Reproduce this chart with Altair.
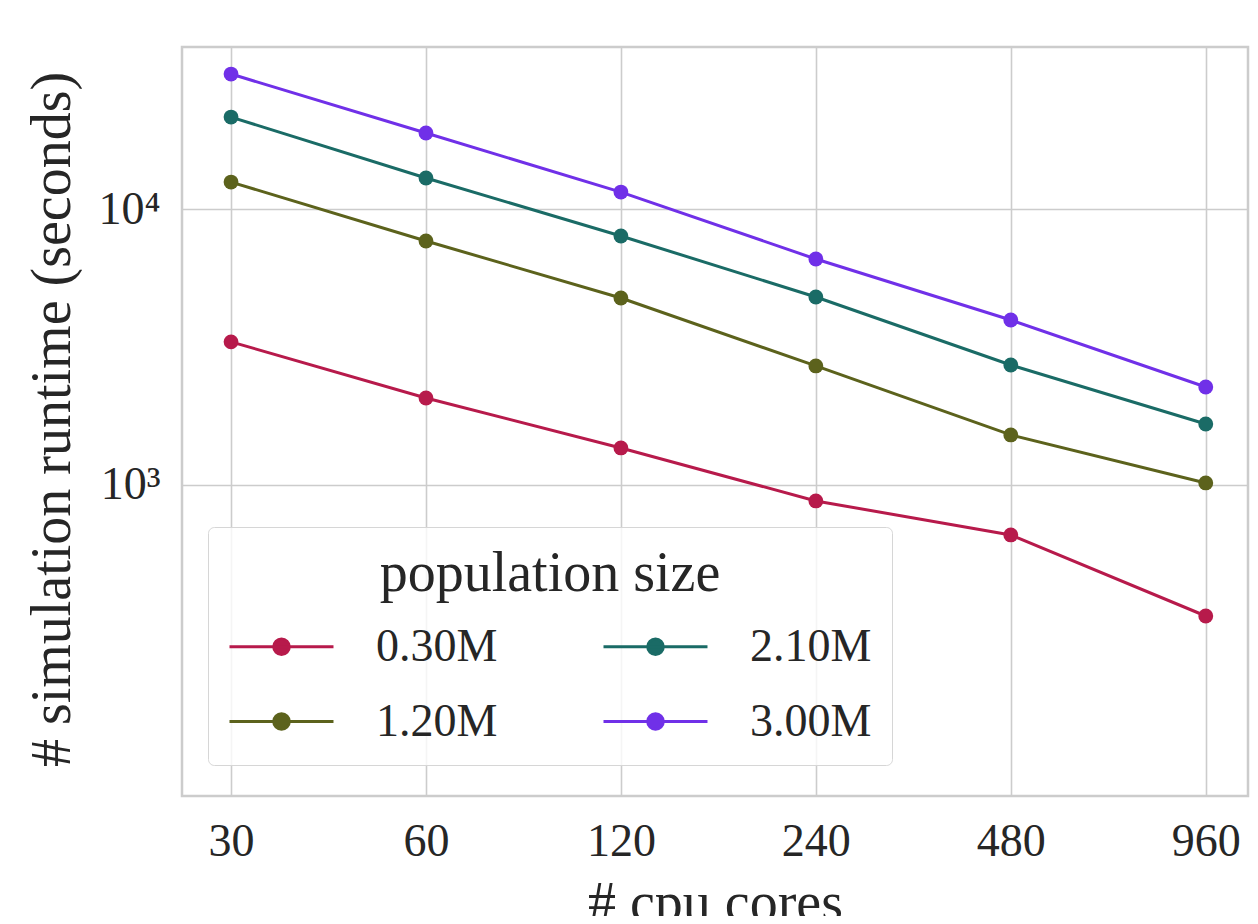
import altair as alt
import pandas as pd

cores = [30, 60, 120, 240, 480, 960]
series_names = ["0.30M", "1.20M", "2.10M", "3.00M"]
runtime_030 = [3300, 2066, 1362, 875, 659, 335]
runtime_120 = [12520, 7660, 4760, 2700, 1518, 1017]
runtime_210 = [21540, 12950, 7985, 4800, 2720, 1663]
runtime_300 = [30840, 18860, 11520, 6590, 3960, 2265]
series_values = [runtime_030, runtime_120, runtime_210, runtime_300]
colors = {"0.30M": "#B71A4B", "1.20M": "#5C621C", "2.10M": "#1A6B66", "3.00M": "#7030E8"}
legend_order = ["0.30M", "2.10M", "1.20M", "3.00M"]
y_ticks = [1000, 10000]

rows = []
for name, vals in zip(series_names, series_values):
    for c, v in zip(cores, vals):
        rows.append({"cores": c, "runtime": v, "population": name})
df = pd.DataFrame(rows)

FONT = "Liberation Serif"

x = alt.X("cores:Q",
          scale=alt.Scale(type="log", domain=[25.2, 1115.6], nice=False),
          axis=alt.Axis(values=cores, format="d", title="# cpu cores",
                        titleFontSize=56, labelFontSize=46, labelPadding=23,
                        ticks=False, domain=False, grid=True,
                        titleY=80, titleBaseline="top"))
y = alt.Y("runtime:Q",
          scale=alt.Scale(type="log", domain=[74.6, 38650], nice=False),
          axis=alt.Axis(values=y_ticks, title="# simulation runtime (seconds)",
                        labelExpr="datum.value == 10000 ? '10⁴' : '10³'",
                        titleFontSize=56, labelFontSize=46, labelPadding=22,
                        ticks=False, domain=False, grid=True,
                        titleX=-130, titleY=372, titleAngle=-90,
                        titleAlign="center", titleBaseline="middle"))
color = alt.Color("population:N",
                  scale=alt.Scale(domain=legend_order,
                                  range=[colors[n] for n in legend_order]),
                  legend=alt.Legend(
                      title="population size", orient="none",
                      legendX=26, legendY=480, columns=2,
                      direction="horizontal",
                      titleFontSize=56, labelFontSize=46, titleLimit=800,
                      titleAnchor="middle", titleFontWeight="normal",
                      titlePadding=7,
                      symbolType="M-1,0L1.971,0M0.709,0A0.223,0.223,0,1,1,0.263,0A0.223,0.223,0,1,1,0.709,0",
                      symbolSize=4900, symbolStrokeWidth=3,
                      labelOffset=75, columnPadding=99, rowPadding=15,
                      padding=20, cornerRadius=6,
                      strokeColor="#d6d6d6", fillColor="rgba(255,255,255,0.8)",
                      gridAlign="all"))

base = alt.Chart(df)
lines = base.mark_line(strokeWidth=3).encode(x=x, y=y, color=color)
points = base.mark_circle(size=220, opacity=1).encode(x=x, y=y, color=color)

chart = alt.layer(lines, points).properties(
    width=1066, height=749,
    padding={"left": 174, "top": 39, "right": 2, "bottom": 120},
    autosize=alt.AutoSizeParams(type="none"),
).configure(font=FONT).configure_view(
    stroke="#cccccc", strokeWidth=2.5
).configure_axis(
    gridColor="#cccccc", gridWidth=1.6, labelColor="#262626", titleColor="#262626",
    labelFont=FONT, titleFont=FONT, titleFontWeight="normal"
).configure_legend(
    labelColor="#262626", titleColor="#262626", labelFont=FONT, titleFont=FONT
)

chart.save("out.html", embed_options={"renderer": "svg", "actions": False})
